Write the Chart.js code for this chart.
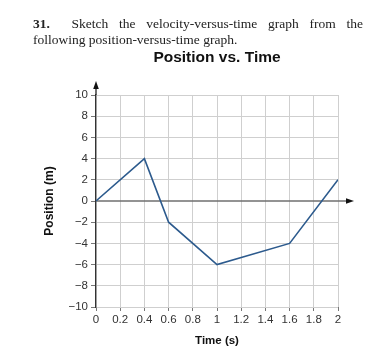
<!DOCTYPE html>
<html><head><meta charset="utf-8">
<script src="https://cdn.jsdelivr.net/npm/chart.js@4/dist/chart.umd.min.js"></script>
<style>
html,body{margin:0;padding:0;background:#fff;width:377px;height:357px;overflow:hidden;}
#wrap{position:absolute;left:0;top:0;width:377px;height:357px;}
#problem{position:absolute;left:33px;top:16px;width:330px;font-family:"Liberation Serif",serif;font-size:13.5px;line-height:16px;color:#222;text-align:justify;text-align-last:left;}
#problem .l1{text-align:justify;text-align-last:justify;display:block;}
#title{position:absolute;left:117px;width:200px;top:48px;text-align:center;font-family:"Liberation Sans",Arial,sans-serif;font-weight:bold;font-size:15.5px;color:#111;}
</style></head>
<body>
<div id="wrap"><canvas id="c" width="377" height="357"></canvas></div>
<div id="problem"><span class="l1"><b>31.</b>&nbsp; Sketch the velocity-versus-time graph from the</span>following position-versus-time graph.</div>
<div id="title">Position vs. Time</div>
<script>
const times = [0, 0.4, 0.6, 1, 1.6, 2];
const positions = [0, 4, -2, -6, -4, 2];
const xTicks = [0, 0.2, 0.4, 0.6, 0.8, 1, 1.2, 1.4, 1.6, 1.8, 2];
const yTicks = [-10, -8, -6, -4, -2, 0, 2, 4, 6, 8, 10];

const arrows = {
  id: 'arrows',
  beforeDatasetsDraw(chart) {
    const {ctx} = chart;
    const xs = chart.scales.x, ys = chart.scales.y;
    const y0 = ys.getPixelForValue(0);
    const x0 = xs.getPixelForValue(0);
    const xEnd = xs.getPixelForValue(2);
    ctx.save();
    ctx.strokeStyle = '#6f6f6f'; ctx.lineWidth = 1.4;
    ctx.beginPath(); ctx.moveTo(x0, y0); ctx.lineTo(xEnd + 10, y0); ctx.stroke();
    ctx.restore();
  },
  afterDraw(chart) {
    const {ctx} = chart;
    const xs = chart.scales.x, ys = chart.scales.y;
    const y0 = ys.getPixelForValue(0);
    const x0 = xs.getPixelForValue(0);
    const xEnd = xs.getPixelForValue(2);
    const yTop = ys.getPixelForValue(10);
    ctx.save();
    ctx.strokeStyle = '#222'; ctx.fillStyle = '#111'; ctx.lineWidth = 1.3;
    ctx.beginPath(); ctx.moveTo(xEnd + 16, y0); ctx.lineTo(xEnd + 8, y0 - 2.8); ctx.lineTo(xEnd + 8, y0 + 2.8); ctx.closePath(); ctx.fill();
    ctx.beginPath(); ctx.moveTo(x0, yTop); ctx.lineTo(x0, yTop - 8); ctx.stroke();
    ctx.beginPath(); ctx.moveTo(x0, yTop - 14); ctx.lineTo(x0 - 2.8, yTop - 6); ctx.lineTo(x0 + 2.8, yTop - 6); ctx.closePath(); ctx.fill();
    ctx.restore();
  }
};

new Chart(document.getElementById('c'), {
  type: 'line',
  data: {
    datasets: [{
      data: times.map((t, i) => ({x: t, y: positions[i]})),
      borderColor: '#2c5a8d', borderWidth: 1.6, pointRadius: 0, tension: 0, fill: false
    }]
  },
  options: {
    responsive: false, animation: false,
    layout: {padding: {left: 38, right: 39, top: 95, bottom: 5}},
    plugins: {legend: {display: false}, title: {display: false}, tooltip: {enabled: false}},
    scales: {
      x: {
        type: 'linear', min: 0, max: 2,
        afterBuildTicks: s => { s.ticks = xTicks.map(v => ({value: v})); },
        afterFit: s => { s.height = 45; },
        ticks: {
          callback: v => String(Math.round(v * 10) / 10),
          font: {family: 'Liberation Sans', size: 11.5}, color: '#333', padding: 2, maxRotation: 0, autoSkip: false
        },
        grid: {color: '#cfcfcf', lineWidth: 1, tickLength: 4, tickColor: '#777'},
        border: {display: false},
        title: {display: true, text: 'Time (s)', font: {family: 'Liberation Sans', size: 11.5, weight: 'bold'}, color: '#111', padding: {top: 4, bottom: 4}}
      },
      y: {
        type: 'linear', min: -10, max: 10,
        afterBuildTicks: s => { s.ticks = yTicks.map(v => ({value: v})); },
        afterFit: s => { s.width = 58; },
        ticks: {
          callback: v => (v < 0 ? '\u2212' + Math.abs(v) : String(v)),
          font: {family: 'Liberation Sans', size: 11.5}, color: '#333', padding: 3, autoSkip: false
        },
        grid: {color: ctx => ctx.tick && ctx.tick.value === 0 ? 'rgba(0,0,0,0)' : '#cfcfcf', lineWidth: 1, tickLength: 5, tickColor: '#777'},
        border: {display: true, color: '#333', width: 1.3},
        title: {display: true, text: 'Position (m)', font: {family: 'Liberation Sans', size: 12, weight: 'bold'}, color: '#111', padding: {top: 4, bottom: 4}}
      }
    }
  },
  plugins: [arrows]
});
</script>
</body></html>
